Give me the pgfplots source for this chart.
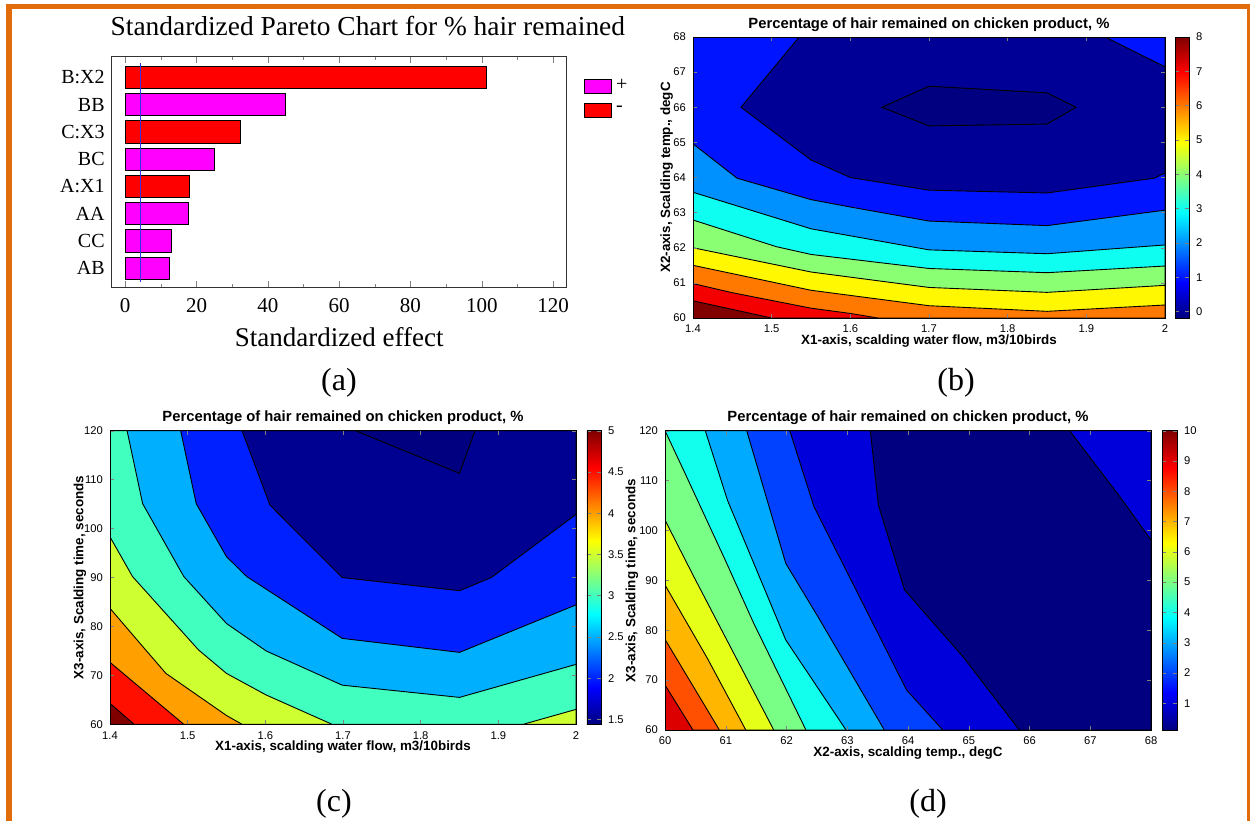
\documentclass[border=0pt]{standalone}
\usepackage{fontspec}
\setmainfont{Liberation Sans}
\newfontfamily\tnr{Liberation Serif}
\usepackage{pgfplots}
\pgfplotsset{compat=1.18}
\definecolor{orfr}{RGB}{227,108,10}
\definecolor{mag}{RGB}{255,0,255}
\definecolor{pred}{RGB}{255,0,0}
\definecolor{pblue}{RGB}{50,50,230}
% panel b
\definecolor{bA}{RGB}{0,0,128}\definecolor{bB}{RGB}{0,0,151}\definecolor{bC}{RGB}{0,20,255}
\definecolor{bD}{RGB}{0,145,255}\definecolor{bE}{RGB}{14,255,241}\definecolor{bF}{RGB}{139,255,116}
\definecolor{bG}{RGB}{255,248,0}\definecolor{bH}{RGB}{255,121,0}\definecolor{bI}{RGB}{245,0,0}
\definecolor{bJ}{RGB}{128,0,0}
% panel c
\definecolor{cA}{RGB}{0,0,128}\definecolor{cB}{RGB}{0,0,145}\definecolor{cC}{RGB}{0,32,255}
\definecolor{cD}{RGB}{0,176,255}\definecolor{cE}{RGB}{64,255,191}\definecolor{cF}{RGB}{206,255,48}
\definecolor{cG}{RGB}{255,159,0}\definecolor{cH}{RGB}{255,15,0}\definecolor{cI}{RGB}{128,0,0}
% panel d
\definecolor{dA}{RGB}{0,0,128}\definecolor{dB}{RGB}{0,0,218}\definecolor{dC}{RGB}{0,66,255}
\definecolor{dD}{RGB}{0,170,255}\definecolor{dE}{RGB}{18,255,237}\definecolor{dF}{RGB}{121,255,134}
\definecolor{dG}{RGB}{230,255,25}\definecolor{dH}{RGB}{255,182,0}\definecolor{dI}{RGB}{255,79,0}
\definecolor{dJ}{RGB}{220,0,0}

\pgfplotsset{
 matax/.style={
  anchor=south west, scale only axis, axis on top,
  tick align=inside, major tick length=2.2pt,
  /pgf/number format/assume math mode=true,
  tick label style={font=\fontsize{5.6}{6.5}\selectfont},
  title style={font=\bfseries\fontsize{7.4}{8}\selectfont, at={(0.5,1)}, anchor=base, yshift=-1.5pt},
  xlabel style={font=\bfseries\fontsize{6.7}{7}\selectfont, at={(0.5,0)}, anchor=base, yshift=-13.3pt},
  ylabel style={font=\bfseries\fontsize{6.7}{7}\selectfont, anchor=center},
  colorbar, colormap/jet,
  colorbar shift/.style={},
  colorbar style={scale only axis, at={(parent axis.north east)}, anchor=north west,
     tick align=inside, major tick length=2pt,
     tick label style={font=\fontsize{5.6}{6.5}\selectfont},
     /pgf/number format/assume math mode=true},
 },
 reg/.style={fill=#1, draw=black, line width=0.45pt},
}

\begin{document}
\begin{tikzpicture}
\path[use as bounding box] (0,0) rectangle (626pt,410.5pt);
% frame
\fill[orfr] (3pt,0) rectangle (6pt,408.5pt);
\fill[orfr] (3pt,406pt) rectangle (625pt,408.5pt);
\fill[orfr] (623.5pt,0) rectangle (624.8pt,408.5pt);

% ---------- (a) ----------
\begin{axis}[
 anchor=south west, at={(55.85pt,266.85pt)}, scale only axis, width=227.5pt, height=115.3pt,
 xmin=-3.78, xmax=123.8, ymin=0.30, ymax=8.76,
 xtick={0,20,...,120}, minor x tick num=1,
 ytick={1,...,8}, yticklabels={AB,CC,AA,A:X1,BC,C:X3,BB,B:X2},
 ytick style={draw=none},
 tick align=inside, major tick length=3pt, minor tick length=1.8pt,
 axis line style={black!80},
 /pgf/number format/assume math mode=true,
 xticklabel style={font=\tnr\fontsize{10.5}{11}\selectfont, yshift=-2pt},
 yticklabel style={font=\tnr\fontsize{10}{11}\selectfont},
 title={Standardized Pareto Chart for \% hair remained},
 title style={font=\tnr\fontsize{13.7}{14}\selectfont, at={(0.563,1)}, anchor=base, yshift=4.8pt},
 xlabel={Standardized effect},
 xlabel style={font=\tnr\fontsize{13.5}{14}\selectfont, at={(0.5,0)}, anchor=base, yshift=-29.5pt},
 legend style={at={(1.038,0.92)}, anchor=north west, draw=none, fill=none,
   font=\tnr\fontsize{10}{11}\selectfont, row sep=2pt, inner sep=0pt},
 legend cell align=left,
]
\addplot[xbar, bar width=0.82, bar shift=0pt, fill=mag, draw=black, line width=0.4pt,
  legend image code/.code={\draw[fill=mag,draw=black] (0pt,-3.5pt) rectangle (13.5pt,3.5pt);}]
  coordinates {(45.0,7) (25.0,5) (17.65,3) (12.95,2) (12.38,1)};
\addlegendentry{+}
\addplot[xbar, bar width=0.82, bar shift=0pt, fill=pred, draw=black, line width=0.4pt,
  legend image code/.code={\draw[fill=pred,draw=black] (0pt,-3.5pt) rectangle (13.5pt,3.5pt);}]
  coordinates {(101.4,8) (32.2,6) (18.1,4)};
\addlegendentry{-}
\addplot[pblue, line width=0.6pt, forget plot] coordinates {(4.24,0.49) (4.24,8.53)};
\end{axis}

% ---------- (b) ----------
\begin{axis}[matax,
 at={(346.5pt,251.5pt)}, width=236pt, height=140.5pt,
 xmin=1.4, xmax=2, ymin=60, ymax=68,
 xtick={1.4,1.5,1.6,1.7,1.8,1.9,2}, ytick={60,61,...,68},
 point meta min=-0.19, point meta max=8,
 colorbar style={width=7pt, height=140.5pt, xshift=5pt, ytick={0,1,...,8}},
 title={Percentage of hair remained on chicken product, \%},
 xlabel={X1-axis, scalding water flow, m3/10birds},
 ylabel={X2-axis, Scalding temp., degC},
 ylabel style={at={(-0.0557,0.5)}},
]
\addplot[reg=bJ] coordinates {(1.4,60) (2,60) (2,68) (1.4,68)} -- cycle;
\addplot[reg=bI] coordinates {(1.4,60.49) (1.5,60) (2,60) (2,68) (1.4,68)} -- cycle;
\addplot[reg=bH] coordinates {(1.4,60.98) (1.45,60.72) (1.55,60.28) (1.6,60.13) (1.635,60) (2,60) (2,68) (1.4,68)} -- cycle;
\addplot[reg=bG] coordinates {(1.4,61.5) (1.55,60.79) (1.7,60.35) (1.85,60.19) (2,60.37) (2,68) (1.4,68)} -- cycle;
\addplot[reg=bF] coordinates {(1.4,62.0) (1.55,61.31) (1.7,60.87) (1.85,60.73) (2,60.93) (2,68) (1.4,68)} -- cycle;
\addplot[reg=bE] coordinates {(1.4,62.79) (1.506,62.03) (1.55,61.81) (1.7,61.41) (1.85,61.29) (2,61.48) (2,68) (1.4,68)} -- cycle;
\addplot[reg=bD] coordinates {(1.4,63.58) (1.55,62.54) (1.7,61.94) (1.85,61.83) (2,62.08) (2,68) (1.4,68)} -- cycle;
\addplot[reg=bC] coordinates {(1.4,64.96) (1.456,63.98) (1.55,63.37) (1.6,63.16) (1.7,62.76) (1.85,62.63) (2,63.07) (2,68) (1.4,68)} -- cycle;
\addplot[reg=bB] coordinates {(1.535,68) (1.461,66) (1.55,64.5) (1.6,64) (1.7,63.64) (1.85,63.56) (1.986,63.98) (2,64.13) (2,67.15) (1.924,68)} -- cycle;
\addplot[reg=bA] coordinates {(1.64,66) (1.7,66.6) (1.85,66.41) (1.887,66) (1.85,65.52) (1.7,65.47)} -- cycle;
\end{axis}

% ---------- (c) ----------
\begin{axis}[matax,
 at={(55pt,48.35pt)}, width=233pt, height=146.8pt,
 xmin=1.4, xmax=2, ymin=60, ymax=120,
 xtick={1.4,1.5,1.6,1.7,1.8,1.9,2}, ytick={60,70,...,120},
 point meta min=1.44, point meta max=5,
 colorbar style={width=7pt, height=146.8pt, xshift=5.5pt, ytick={1.5,2,2.5,3,3.5,4,4.5,5}},
 title={Percentage of hair remained on chicken product, \%},
 xlabel={X1-axis, scalding water flow, m3/10birds},
 ylabel={X3-axis, Scalding time, seconds},
 ylabel style={at={(-0.0644,0.5)}},
]
\addplot[reg=cI] coordinates {(1.4,60) (2,60) (2,120) (1.4,120)} -- cycle;
\addplot[reg=cH] coordinates {(1.4,64.28) (1.431,60) (2,60) (2,120) (1.4,120)} -- cycle;
\addplot[reg=cG] coordinates {(1.4,72.66) (1.495,60) (2,60) (2,120) (1.4,120)} -- cycle;
\addplot[reg=cF] coordinates {(1.4,83.7) (1.447,75.0) (1.472,70.4) (1.55,61.8) (1.57,60) (2,60) (2,120) (1.4,120)} -- cycle;
\addplot[reg=cE] coordinates {(1.4,98.3) (1.429,90.2) (1.514,75.2) (1.55,70.4) (1.601,66.0) (1.686,60) (1.932,60) (2,63.05) (2,120) (1.4,120)} -- cycle;
\addplot[reg=cD] coordinates {(1.422,120) (1.442,105.1) (1.495,90.2) (1.55,80.6) (1.601,75.0) (1.699,68.0) (1.85,65.5) (2,72.25) (2,120)} -- cycle;
\addplot[reg=cC] coordinates {(1.491,120) (1.511,105.1) (1.55,94.25) (1.576,90.2) (1.699,77.56) (1.85,74.7) (2,84.4) (2,120)} -- cycle;
\addplot[reg=cB] coordinates {(1.570,120) (1.606,104.8) (1.699,90.0) (1.85,87.3) (1.891,90.0) (2,102.9) (2,120)} -- cycle;
\addplot[reg=cA] coordinates {(1.716,120) (1.85,111.3) (1.870,120)} -- cycle;
\end{axis}

% ---------- (d) ----------
\begin{axis}[matax,
 at={(332.5pt,45.5pt)}, width=243pt, height=149.65pt,
 xmin=60, xmax=68, ymin=60, ymax=120,
 xtick={60,61,...,68}, ytick={60,70,...,120},
 point meta min=0.12, point meta max=10,
 colorbar style={width=7.5pt, height=149.65pt, xshift=5.5pt, ytick={1,2,...,10}},
 title={Percentage of hair remained on chicken product, \%},
 xlabel={X2-axis, scalding temp., degC},
 ylabel={X3-axis, Scalding time, seconds},
 ylabel style={at={(-0.0679,0.5)}},
]
\addplot[reg=dJ] coordinates {(60,60) (68,60) (68,120) (60,120)} -- cycle;
\addplot[reg=dI] coordinates {(60,69.03) (60.46,60) (68,60) (68,120) (60,120)} -- cycle;
\addplot[reg=dH] coordinates {(60,78.18) (60.895,60) (68,60) (68,120) (60,120)} -- cycle;
\addplot[reg=dG] coordinates {(60,89.07) (60.696,74.4) (61.33,60) (68,60) (68,120) (60,120)} -- cycle;
\addplot[reg=dF] coordinates {(60,102.1) (60.46,91.07) (61.79,60) (68,60) (68,120) (60,120)} -- cycle;
\addplot[reg=dE] coordinates {(60,120) (60.33,111.45) (60.99,94.1) (61.46,81.4) (62.32,60) (68,60) (68,120)} -- cycle;
\addplot[reg=dD] coordinates {(60.663,120) (61.027,106.1) (61.988,78.05) (62.98,60) (68,60) (68,120)} -- cycle;
\addplot[reg=dC] coordinates {(61.345,120) (61.988,93.4) (62.518,82.7) (63.61,60) (68,60) (68,120)} -- cycle;
\addplot[reg=dB] coordinates {(62.054,120) (62.452,104.77) (63.976,68.03) (64.573,60) (68,60) (68,120)} -- cycle;
\addplot[reg=dA] coordinates {(63.38,120) (63.512,105.1) (63.943,88.07) (64.904,74.71) (65.832,60) (68,60) (68,98.09) (67.488,106.77) (66.66,120)} -- cycle;
\end{axis}

% panel labels
\node[font=\tnr\fontsize{16}{16}\selectfont] at (169.5pt,219pt) {(a)};
\node[font=\tnr\fontsize{16}{16}\selectfont] at (478pt,219pt) {(b)};
\node[font=\tnr\fontsize{16}{16}\selectfont] at (167pt,8.5pt) {(c)};
\node[font=\tnr\fontsize{16}{16}\selectfont] at (464pt,8.5pt) {(d)};
\end{tikzpicture}
\end{document}
